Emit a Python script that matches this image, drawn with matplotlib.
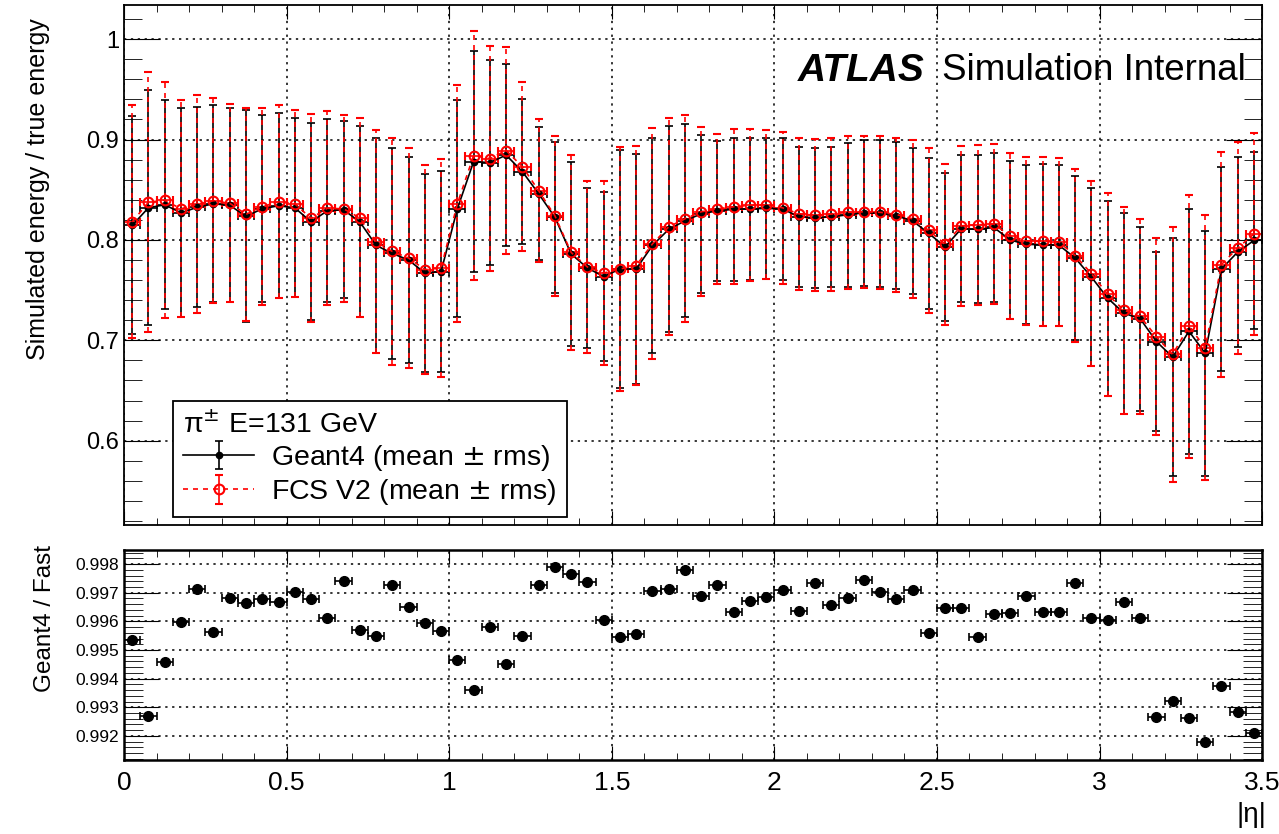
import numpy as np
import matplotlib.pyplot as plt
from matplotlib.ticker import MultipleLocator, FuncFormatter
from matplotlib.container import ErrorbarContainer

plt.rcParams['font.family'] = ['Liberation Sans', 'DejaVu Sans']

# |eta| binning: 70 bins of 0.05 from 0 to 3.5
bin_width = 0.05
n_bins = 70
eta = bin_width * (np.arange(n_bins) + 0.5)

g4_mean = [0.8145, 0.832, 0.835, 0.827, 0.8325, 0.836, 0.8345, 0.8235, 0.831, 0.834,
           0.832, 0.818, 0.829, 0.830, 0.818, 0.7946, 0.7865, 0.780, 0.767, 0.7685,
           0.831, 0.878, 0.877, 0.8845, 0.868, 0.846, 0.8225, 0.786, 0.772, 0.7635,
           0.771, 0.771, 0.7945, 0.8105, 0.819, 0.826, 0.829, 0.8305, 0.831, 0.8313,
           0.831, 0.823, 0.822, 0.823, 0.825, 0.827, 0.8265, 0.824, 0.819, 0.8065,
           0.793, 0.8112, 0.8105, 0.8124, 0.800, 0.7955, 0.7953, 0.7948, 0.782, 0.763,
           0.742, 0.727, 0.7215, 0.6987, 0.6833, 0.709, 0.687, 0.771, 0.788, 0.7995]
g4_rms = [0.1085, 0.117, 0.104, 0.104, 0.0995, 0.098, 0.0965, 0.1055, 0.093, 0.092,
          0.089, 0.098, 0.091, 0.088, 0.095, 0.107, 0.1055, 0.103, 0.099, 0.1005,
          0.108, 0.110, 0.102, 0.0905, 0.072, 0.066, 0.0755, 0.0915, 0.080, 0.0845,
          0.1187, 0.1145, 0.1075, 0.1025, 0.096, 0.079, 0.070, 0.0715, 0.071, 0.0703,
          0.071, 0.070, 0.070, 0.070, 0.072, 0.073, 0.0735, 0.0733, 0.073, 0.0755,
          0.074, 0.0732, 0.0738, 0.0744, 0.079, 0.0795, 0.0807, 0.0802, 0.082, 0.089,
          0.097, 0.100, 0.0915, 0.0893, 0.1187, 0.122, 0.122, 0.102, 0.0945, 0.0885]
fcs_mean = [0.818, 0.8375, 0.8395, 0.831, 0.8355, 0.839, 0.8365, 0.8255, 0.833, 0.838,
            0.836, 0.8215, 0.8315, 0.831, 0.822, 0.798, 0.7885, 0.782, 0.7705, 0.772,
            0.836, 0.884, 0.881, 0.889, 0.873, 0.849, 0.824, 0.7875, 0.773, 0.767,
            0.771, 0.7745, 0.796, 0.813, 0.821, 0.828, 0.831, 0.833, 0.8345, 0.835,
            0.832, 0.826, 0.8245, 0.8257, 0.8275, 0.828, 0.8275, 0.8253, 0.821, 0.8094,
            0.7958, 0.814, 0.815, 0.8158, 0.804, 0.799, 0.7987, 0.798, 0.7844, 0.7665,
            0.7457, 0.730, 0.7238, 0.7035, 0.686, 0.714, 0.6926, 0.7755, 0.792, 0.806]
fcs_rms = [0.116, 0.1295, 0.1175, 0.108, 0.1085, 0.102, 0.0985, 0.106, 0.098, 0.096,
           0.093, 0.1035, 0.0965, 0.093, 0.099, 0.111, 0.1135, 0.110, 0.1045, 0.109,
           0.118, 0.124, 0.112, 0.103, 0.084, 0.071, 0.080, 0.0975, 0.086, 0.092,
           0.1217, 0.1195, 0.115, 0.108, 0.103, 0.084, 0.0745, 0.077, 0.0755, 0.074,
           0.0757, 0.0758, 0.0757, 0.0763, 0.0765, 0.0757, 0.0765, 0.0767, 0.0787, 0.0826,
           0.0802, 0.080, 0.080, 0.0798, 0.083, 0.084, 0.084, 0.0836, 0.0864, 0.0925,
           0.1007, 0.103, 0.0968, 0.0982, 0.127, 0.131, 0.132, 0.1125, 0.1058, 0.1007]
ratio = [0.99535, 0.9927, 0.99459, 0.99599, 0.99712, 0.99563, 0.9968, 0.99663, 0.99679, 0.99669,
         0.99701, 0.99678, 0.99613, 0.9974, 0.99569, 0.99548, 0.99727, 0.9965, 0.99593, 0.99567,
         0.99464, 0.99362, 0.99579, 0.99451, 0.9955, 0.99727, 0.99788, 0.99765, 0.99737, 0.99605,
         0.99547, 0.99555, 0.99705, 0.99712, 0.99779, 0.9969, 0.99727, 0.99634, 0.99671, 0.99686,
         0.99709, 0.99636, 0.99733, 0.99656, 0.99683, 0.99744, 0.99703, 0.99678, 0.99709, 0.99558,
         0.99648, 0.99648, 0.99547, 0.99626, 0.9963, 0.9969, 0.99634, 0.99634, 0.99733, 0.9961,
         0.99605, 0.99666, 0.99613, 0.99267, 0.99322, 0.99262, 0.9918, 0.99374, 0.99283, 0.99209]

fig = plt.figure(figsize=(12.79, 8.34), dpi=100)
ax1 = fig.add_axes([0.097, 0.3705, 0.8898, 0.6235])
ax2 = fig.add_axes([0.097, 0.0887, 0.8898, 0.2518])

# top panel
g4 = ax1.errorbar(eta, g4_mean, xerr=bin_width / 2, yerr=g4_rms, fmt='-o', color='black',
                  ms=4.5, lw=1.2, elinewidth=1.2, capsize=3, capthick=1.2)
fcs = ax1.errorbar(eta, fcs_mean, xerr=bin_width / 2, yerr=fcs_rms, fmt='o', color='red',
                   ls=(0, (3, 3)), mfc='none', mec='red', mew=1.5, ms=7, lw=1.2,
                   elinewidth=1.2, capsize=3, capthick=1.2)
fcs[2][1].set_linestyle((0, (3, 3)))

# legend entries show only the vertical (rms) bars
g4_h = ErrorbarContainer(tuple(g4), has_xerr=False, has_yerr=True,
                         label='Geant4 (mean $\\pm$ rms)')
fcs_h = ErrorbarContainer(tuple(fcs), has_xerr=False, has_yerr=True,
                          label='FCS V2 (mean $\\pm$ rms)')

ax1.set_xlim(0, 3.5)
ax1.set_ylim(0.516, 1.034)
ax1.xaxis.set_major_locator(MultipleLocator(0.5))
ax1.xaxis.set_minor_locator(MultipleLocator(0.1))
ax1.yaxis.set_major_locator(MultipleLocator(0.1))
ax1.yaxis.set_minor_locator(MultipleLocator(0.02))
ax1.tick_params(which='both', direction='in', top=True, right=True, labelsize=17)
ax1.tick_params(axis='y', which='major', length=26)
ax1.tick_params(axis='y', which='minor', length=13)
ax1.tick_params(axis='x', which='major', length=10)
ax1.tick_params(axis='x', which='minor', length=5)
ax1.tick_params(axis='x', labelbottom=False)
ax1.yaxis.set_major_formatter(FuncFormatter(lambda v, p: '%g' % round(v, 3)))
ax1.grid(True, which='major', color='black', ls=(0, (1.5, 3)), lw=1.1)
for s in ax1.spines.values():
    s.set_linewidth(1.3)

leg = ax1.legend(handles=[g4_h, fcs_h], loc='lower left', bbox_to_anchor=(0.043, 0.015),
                 borderaxespad=0, title='π$^{\\pm}$ E=131 GeV', title_fontsize=20.5,
                 fontsize=20.5, fancybox=False, edgecolor='black', framealpha=1,
                 handlelength=2.5, handletextpad=0.6, alignment='left',
                 borderpad=0.35, labelspacing=0.15)
leg.get_frame().set_linewidth(1.3)

ax1.text(0.592, 0.874, 'ATLAS', transform=ax1.transAxes, fontsize=28,
         fontweight='bold', fontstyle='italic', va='center', ha='left')
ax1.text(0.719, 0.874, 'Simulation Internal', transform=ax1.transAxes, fontsize=26.5,
         va='center', ha='left')

# ratio panel
ax2.errorbar(eta, ratio, xerr=bin_width / 2, fmt='o', color='black', ms=7,
             elinewidth=1.2, capsize=3, capthick=1.2)
ax2.set_xlim(0, 3.5)
ax2.set_ylim(0.99116, 0.99849)
ax2.xaxis.set_major_locator(MultipleLocator(0.5))
ax2.xaxis.set_minor_locator(MultipleLocator(0.1))
ax2.yaxis.set_major_locator(MultipleLocator(0.001))
ax2.yaxis.set_minor_locator(MultipleLocator(0.0002))
ax2.tick_params(which='both', direction='in', top=True, right=True)
ax2.tick_params(axis='y', which='major', length=25, labelsize=12.5)
ax2.tick_params(axis='y', which='minor', length=14)
ax2.tick_params(axis='x', which='major', length=10, labelsize=19, pad=8)
ax2.tick_params(axis='x', which='minor', length=5)
ax2.xaxis.set_major_formatter(FuncFormatter(lambda v, p: '%g' % v))
ax2.yaxis.set_major_formatter(FuncFormatter(lambda v, p: '%.3f' % v))
ax2.grid(True, which='major', color='black', ls=(0, (1.5, 3)), lw=1.1)
for s in ax2.spines.values():
    s.set_linewidth(1.8)

fig.text(38 / 1279, 1 - 189 / 834, 'Simulated energy / true energy', rotation=90,
         ha='center', va='center', fontsize=18)
fig.text(45 / 1279, 1 - 619 / 834, 'Geant4 / Fast', rotation=90,
         ha='center', va='center', fontsize=17.5)
fig.text(1251 / 1279, 1 - 815 / 834, '|η|', ha='center', va='center', fontsize=20)

fig.savefig('out.png', dpi=100)
